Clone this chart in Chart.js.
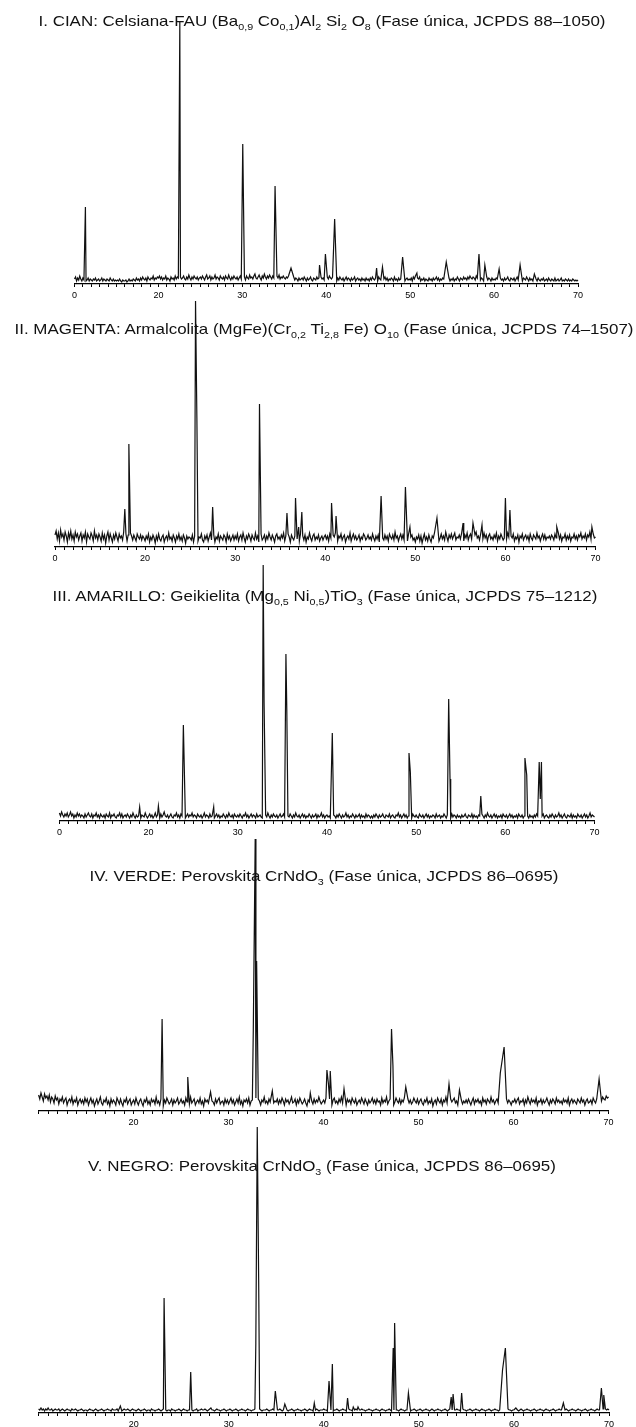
<!DOCTYPE html>
<html>
<head>
<meta charset="utf-8">
<script src="https://cdn.jsdelivr.net/npm/chart.js@4.4.1/dist/chart.umd.min.js"></script>
<style>
  html, body { margin: 0; padding: 0; background: #fff; }
  body { width: 636px; height: 1427px; position: relative; overflow: hidden;
         font-family: "Liberation Sans", Arial, Helvetica, sans-serif; }
  canvas { position: absolute; left: 0; }
  .ttl { position: absolute; width: 636px; text-align: center; white-space: nowrap;
         font-size: 15px; line-height: 15px; color: #111; z-index: 5;
         transform: scaleX(1.13); transform-origin: 50% 50%; }
  .ttl sub { font-size: 9.5px; vertical-align: -4px; line-height: 0; }
</style>
</head>
<body>
<script>
/* XRD patterns, 2θ from 10 to 70, background read every 0.125° (arbitrary units) */
const START = 10, STEP = 0.125, END = 70;
const tickValues = [10, 20, 30, 40, 50, 60, 70];
const tickLabelsA = ['0', '20', '30', '40', '50', '60', '70'];
const tickLabelsB = ['', '20', '30', '40', '50', '60', '70'];

/* ── I. CIAN ─────────────────────── */
const noiseI = [
  5,7,3,6,4,8,5,3,6,4,5,3,4,6,3,5,4,3,5,4,6,3,4,5,3,4,6,3,5,4,3,5,4,3,6,4,3,5,3,4,
  3,4,3,5,3,2,4,3,3,4,2,3,5,3,4,3,5,4,3,6,4,5,3,6,4,7,5,4,6,3,7,5,4,6,5,8,4,6,5,7,
  6,8,5,7,4,6,5,8,4,6,5,3,7,5,6,4,8,5,7,6,4,7,5,6,8,5,4,7,5,9,6,4,7,5,8,6,5,7,4,6,
  7,5,8,6,4,7,9,5,6,8,4,7,5,6,9,5,7,6,4,8,6,5,7,4,8,6,5,9,6,4,7,5,8,6,5,7,4,6,8,5,
  6,5,7,4,8,6,5,9,6,7,5,8,10,6,5,7,9,6,4,8,6,10,7,5,8,6,9,7,5,8,6,10,7,8,6,9,5,7,6,8,
  6,5,7,6,8,9,7,6,5,7,4,6,5,3,6,4,5,6,4,7,5,3,6,4,5,7,4,3,6,5,4,7,5,6,4,7,5,6,4,5,
  6,7,5,8,6,5,7,4,6,5,3,6,4,7,5,4,6,3,5,7,4,6,5,3,6,4,5,7,3,5,6,4,5,3,6,4,5,3,6,4,
  5,3,6,4,7,5,4,6,5,3,7,5,4,6,3,5,7,4,6,3,5,4,6,5,3,7,4,5,3,6,4,5,7,4,6,3,5,6,4,5,
  4,6,3,7,5,8,4,6,5,7,3,5,4,6,3,5,4,3,6,4,5,3,6,4,5,7,4,6,3,5,4,6,5,3,7,4,5,6,3,5,
  4,6,3,5,4,7,5,3,6,5,4,7,5,6,4,7,5,8,6,5,7,6,4,8,6,5,7,4,6,5,3,6,5,7,4,6,5,3,6,4,
  5,4,6,5,3,7,6,4,5,3,6,4,5,7,4,3,6,5,4,6,3,5,7,4,5,6,4,3,6,5,4,7,5,3,6,4,5,3,6,4,
  5,3,6,4,3,5,4,6,3,4,5,3,6,4,3,5,4,3,6,3,4,5,3,4,6,3,4,3,5,4,3,5,3,4,3,5,4,3,4,3,
  4
];
const posI = [11.3, 22.55, 30.05, 33.9, 35.8, 39.2, 39.9, 41.0, 46.0, 46.7, 49.1, 50.8, 54.3, 58.2, 58.9, 60.6, 63.1, 64.8];
const hI   = [77, 263, 140, 98, 16, 19, 30, 65, 16, 17, 27, 11, 22, 30, 19, 15, 19, 10];
const wI   = [0.07, 0.07, 0.1, 0.1, 0.25, 0.07, 0.1, 0.15, 0.07, 0.1, 0.15, 0.07, 0.2, 0.15, 0.12, 0.1, 0.15, 0.1];

/* ── II. MAGENTA ─────────────────── */
const noiseII = [
  12,16,8,14,6,17,10,13,7,15,11,5,14,9,16,8,12,6,15,10,13,7,11,14,6,12,9,15,5,13,10,8,14,11,6,16,9,12,7,13,
  10,6,14,8,12,4,11,15,7,13,9,5,12,8,14,10,6,13,9,11,7,15,10,13,6,12,8,14,11,7,12,9,6,13,10,8,12,7,11,9,
  6,11,8,13,5,10,7,12,9,4,11,7,13,8,6,10,12,5,9,11,7,14,8,10,6,12,9,5,11,8,13,7,10,6,12,9,4,11,8,10,
  9,7,12,5,11,8,14,6,10,9,13,7,5,11,8,12,6,10,14,7,9,12,5,10,8,13,6,11,9,7,12,10,5,13,8,11,6,9,12,7,
  11,8,13,6,10,12,7,14,9,5,11,8,13,10,6,12,9,7,14,8,11,5,10,13,7,9,12,6,11,8,14,10,7,12,9,5,11,13,8,10,
  7,12,9,14,6,11,8,13,10,5,12,9,7,11,14,8,10,6,13,9,11,7,12,5,10,8,14,9,6,11,13,7,10,8,12,6,9,11,7,10,
  12,8,11,6,13,9,7,12,10,14,8,6,11,9,13,7,10,12,5,9,11,8,14,6,10,13,8,11,7,9,12,6,10,8,13,11,7,9,12,8,
  10,7,13,9,6,11,8,12,5,10,14,9,7,12,8,11,6,13,10,8,12,7,15,9,11,6,10,13,8,12,7,9,11,6,13,8,10,12,7,9,
  5,10,8,12,6,11,4,9,13,7,10,6,12,8,5,11,9,14,7,10,12,6,9,13,8,11,7,15,10,6,12,9,13,8,11,14,7,10,9,12,
  8,13,10,6,12,9,14,7,11,13,8,10,6,12,15,9,11,7,13,10,8,14,9,12,6,11,13,8,10,7,12,9,14,6,11,8,13,10,7,9,
  12,8,14,10,7,11,9,13,6,10,8,12,5,11,9,13,7,10,12,8,11,6,13,9,7,12,10,8,14,9,11,6,10,13,8,12,7,10,9,11,
  8,12,10,7,13,9,11,14,8,12,6,10,9,13,7,11,8,12,6,10,9,13,8,11,7,12,10,14,8,11,9,13,7,12,10,15,8,11,13,9,
  10
];
const posII = [17.75, 18.2, 25.6, 25.75, 27.5, 32.7, 35.75, 36.7, 37.05, 37.4, 40.7, 41.2, 46.2, 48.9, 49.4, 52.4, 55.3, 56.4, 57.4, 60.0, 60.5, 65.7, 69.6];
const hII   = [38, 103, 246, 129, 40, 143, 34, 49, 20, 35, 44, 31, 51, 60, 20, 29, 24, 24, 22, 49, 37, 20, 20];
const wII   = [0.07, 0.07, 0.07, 0.07, 0.07, 0.07, 0.07, 0.07, 0.07, 0.07, 0.07, 0.07, 0.1, 0.12, 0.07, 0.15, 0.07, 0.1, 0.07, 0.1, 0.07, 0.07, 0.07];

/* ── III. AMARILLO ───────────────── */
const noiseIII = [
  8,5,9,6,4,7,5,8,4,6,9,5,7,3,6,4,8,5,7,4,6,5,3,7,4,6,8,5,4,7,3,6,5,8,4,6,3,7,5,4,
  6,3,7,5,4,8,3,6,5,7,4,3,6,5,8,4,7,3,5,6,4,7,5,3,6,4,8,5,3,6,4,5,7,3,6,5,4,8,5,3,
  5,7,4,6,3,5,8,4,6,5,3,7,4,6,9,5,4,6,3,5,7,4,3,6,5,8,4,6,3,7,5,4,6,3,5,7,4,6,5,8,
  4,6,5,3,7,5,4,6,3,5,8,4,6,5,3,7,4,5,6,3,5,7,4,6,3,5,4,7,5,3,6,4,8,5,4,6,3,7,5,4,
  6,4,7,5,3,6,5,8,4,6,3,5,7,4,6,5,3,7,4,5,6,4,3,7,5,6,4,8,5,3,6,4,7,5,4,6,3,5,7,4,
  5,7,4,6,3,5,4,7,5,3,6,4,8,5,4,6,3,5,7,4,6,3,5,4,7,5,3,6,4,5,7,3,6,4,5,8,4,6,3,5,
  6,4,5,3,7,4,6,5,3,6,4,7,5,3,6,4,5,8,4,6,3,5,4,7,5,3,6,4,5,7,3,6,4,5,3,7,4,6,5,3,
  5,3,6,4,7,5,3,6,4,5,7,4,3,6,5,4,7,3,5,6,4,3,6,5,8,4,6,3,5,7,4,6,3,5,4,6,3,7,5,4,
  6,4,3,7,5,4,6,3,5,7,4,6,3,5,4,6,5,3,7,4,5,6,3,5,4,7,5,3,6,4,5,3,7,4,6,5,3,6,4,5,
  3,6,4,5,7,4,3,6,5,4,7,3,6,4,5,3,6,5,4,7,5,3,6,4,8,5,4,6,3,5,7,4,6,3,5,4,6,3,7,5,
  4,6,3,5,7,4,6,3,5,4,6,3,7,5,4,6,3,5,4,7,5,3,6,4,5,3,6,4,7,5,3,6,4,5,7,3,5,6,4,3,
  6,4,7,5,3,6,4,5,8,4,6,3,5,7,4,3,6,5,4,7,3,6,4,5,3,7,5,4,6,3,5,7,4,6,3,5,8,4,6,5,
  4
];
const posIII = [19.0, 21.1, 23.9, 27.3, 32.85, 32.95, 35.4, 35.5, 40.6, 49.2, 49.35, 53.65, 53.8, 57.25, 62.2, 62.4, 63.8, 63.92, 64.05];
const hIII   = [14, 15, 96, 14, 256, 119, 167, 110, 88, 68, 49, 122, 42, 25, 63, 46, 59, 22, 59];
const wIII   = [0.07, 0.07, 0.1, 0.07, 0.07, 0.07, 0.07, 0.07, 0.12, 0.07, 0.07, 0.07, 0.07, 0.1, 0.07, 0.07, 0.07, 0.07, 0.07];

/* ── IV. VERDE ───────────────────── */
const noiseIV = [
  16,12,18,14,10,17,13,15,11,16,9,14,12,8,15,11,13,7,12,10,14,8,11,13,6,10,12,9,14,7,11,9,13,6,10,12,8,11,7,13,
  9,12,6,10,13,8,11,5,9,12,7,10,14,8,6,11,9,13,7,10,5,12,8,11,9,6,13,10,7,12,8,5,11,9,13,7,10,12,6,9,
  11,7,13,9,6,10,12,8,5,11,9,13,7,10,6,12,9,11,7,14,8,10,6,12,9,5,11,8,13,10,7,9,12,6,11,8,10,13,7,9,
  12,8,10,6,13,9,11,7,14,8,10,12,6,9,11,8,13,7,10,5,12,9,11,8,14,7,10,9,6,12,8,11,13,7,9,10,6,12,8,11,
  7,10,13,8,11,6,9,12,8,14,7,10,5,11,9,12,8,13,6,10,11,7,9,13,8,12,10,6,11,9,14,8,10,7,12,9,6,11,8,10,
  9,12,7,11,8,13,10,6,12,9,11,7,10,14,8,9,12,6,11,8,13,10,7,9,12,8,5,11,9,13,10,7,12,8,11,9,14,10,7,9,
  11,8,13,10,7,12,9,6,11,13,8,10,7,12,9,14,8,11,10,6,12,9,11,7,13,10,8,12,6,9,11,8,13,10,7,12,9,6,11,8,
  10,13,8,11,7,12,9,10,6,13,8,11,9,14,7,10,12,8,11,6,9,13,10,8,12,7,11,9,13,6,10,12,8,11,7,9,13,10,8,12,
  7,10,12,8,6,11,9,13,7,10,8,12,5,9,11,7,13,10,8,12,6,11,9,14,8,10,7,12,9,11,13,8,10,6,12,9,11,7,10,8,
  11,8,12,9,6,10,13,7,11,9,12,8,10,6,13,9,11,7,12,10,8,14,9,11,7,10,12,8,6,11,9,13,7,10,12,8,11,9,6,10,
  9,12,8,11,13,7,10,9,12,6,11,8,14,10,7,12,9,11,8,13,6,10,9,12,7,11,8,10,13,9,6,11,8,12,10,7,13,9,11,8,
  10,7,12,9,11,8,13,6,10,12,8,11,9,7,12,10,8,13,9,11,6,10,12,8,9,11,7,13,10,8,12,11,9,13,10,14,12,11,15,13,
  14
];
const posIV = [23.0, 25.7, 28.1, 32.6, 32.8, 32.95, 34.6, 38.6, 40.35, 40.5, 40.7, 42.15, 47.15, 47.3, 48.65, 53.2, 54.3, 58.6, 59.0, 69.0];
const hIV   = [92, 34, 19, 81, 272, 150, 20, 18, 41, 28, 40, 22, 82, 45, 24, 27, 21, 38, 64, 32];
const wIV   = [0.1, 0.07, 0.1, 0.07, 0.07, 0.07, 0.1, 0.07, 0.07, 0.07, 0.07, 0.1, 0.1, 0.07, 0.1, 0.15, 0.1, 0.15, 0.2, 0.15];

/* ── V. NEGRO ────────────────────── */
const noiseV = [
  4,3,5,3,4,2,4,3,5,3,3,4,2,3,4,3,3,4,2,3,4,3,2,3,4,3,3,2,4,3,3,4,3,2,3,3,4,3,2,3,
  3,2,3,4,3,3,2,3,4,3,2,3,3,4,3,2,3,3,4,3,3,2,4,3,3,3,4,2,3,3,2,3,4,3,3,4,3,2,3,4,
  3,3,2,3,4,3,2,3,3,4,3,2,3,3,2,4,3,3,2,3,3,4,3,2,3,4,3,3,2,3,3,2,4,3,3,2,3,3,4,3,
  2,3,4,3,3,2,3,3,4,3,2,3,3,4,2,3,3,4,3,3,4,3,2,3,4,5,3,3,2,3,4,3,3,2,3,3,4,3,2,3,
  3,4,3,2,3,3,4,3,2,3,3,4,3,3,2,3,4,3,3,2,3,3,4,2,3,3,4,3,2,3,3,3,4,3,2,3,3,4,3,3,
  2,3,3,4,3,2,3,4,3,3,2,3,3,4,3,2,3,3,4,3,3,2,3,3,4,3,2,3,4,3,3,2,3,3,4,3,2,3,3,3,
  4,3,3,2,3,4,3,3,2,3,3,4,3,2,3,3,4,3,3,2,3,4,3,3,2,3,3,4,3,2,3,3,4,3,3,2,3,3,4,3,
  3,2,3,3,4,3,3,2,3,4,3,3,2,3,3,4,3,2,3,3,4,3,3,2,3,4,3,3,2,3,3,4,3,2,3,3,4,3,2,3,
  3,4,3,2,3,3,4,3,3,2,3,4,3,2,3,3,4,3,3,2,3,3,4,3,2,3,4,3,3,2,3,3,4,3,3,2,3,4,3,3,
  2,3,3,4,3,2,3,3,4,3,3,2,3,4,3,3,2,3,3,4,3,2,3,3,4,3,3,2,3,4,3,3,2,3,3,4,3,3,2,3,
  3,4,3,3,2,3,4,3,2,3,3,4,3,3,2,3,3,4,3,2,3,3,4,3,3,2,3,4,3,3,2,3,3,4,3,2,3,3,4,3,
  3,2,3,3,4,3,2,3,3,4,3,3,2,3,4,3,3,2,3,3,4,3,2,3,3,4,3,3,2,3,4,3,3,2,3,4,5,4,3,4,
  3
];
const posV = [18.6, 23.2, 26.0, 32.85, 33.0, 33.15, 34.9, 35.9, 39.0, 40.55, 40.9, 42.5, 43.1, 43.6, 47.3, 47.45, 48.9, 53.4, 53.6, 54.5, 58.8, 59.1, 60.2, 65.2, 69.2, 69.45];
const hV   = [7, 115, 41, 70, 286, 131, 22, 9, 10, 32, 49, 15, 6, 6, 65, 90, 20, 16, 19, 20, 43, 65, 5, 10, 25, 18];
const wV   = [0.1, 0.07, 0.07, 0.07, 0.07, 0.07, 0.1, 0.1, 0.1, 0.1, 0.07, 0.1, 0.07, 0.07, 0.07, 0.07, 0.1, 0.07, 0.07, 0.1, 0.2, 0.2, 0.1, 0.15, 0.1, 0.07];

/* ── layout of the five stacked panels ── */
const AXIS_H = 22;
const panels = [
  { noise: noiseI,   pos: posI,   h: hI,   w: wI,   labels: tickLabelsA, axisY: 284,  x10: 74.5, x70: 578,   H: 275, titleY: 25.5, titleX: 322,
    title: 'I. CIAN: Celsiana-FAU (Ba<sub>0,9</sub> Co<sub>0,1</sub>)Al<sub>2</sub> Si<sub>2</sub> O<sub>8</sub> (Fase única, JCPDS 88–1050)' },
  { noise: noiseII,  pos: posII,  h: hII,  w: wII,  labels: tickLabelsA, axisY: 547,  x10: 55,   x70: 595.5, H: 260, titleY: 333.5, titleX: 324,
    title: 'II. MAGENTA: Armalcolita (MgFe)(Cr<sub>0,2</sub> Ti<sub>2,8</sub> Fe) O<sub>10</sub> (Fase única, JCPDS 74–1507)' },
  { noise: noiseIII, pos: posIII, h: hIII, w: wIII, labels: tickLabelsA, axisY: 821,  x10: 59.4, x70: 594.5, H: 265, titleY: 601, titleX: 324.5,
    title: 'III. AMARILLO: Geikielita (Mg<sub>0,5</sub> Ni<sub>0,5</sub>)TiO<sub>3</sub> (Fase única, JCPDS 75–1212)' },
  { noise: noiseIV,  pos: posIV,  h: hIV,  w: wIV,  labels: tickLabelsB, axisY: 1111, x10: 38.6, x70: 608.6, H: 280, titleY: 881, titleX: 324,
    title: 'IV. VERDE: Perovskita CrNdO<sub>3</sub> (Fase única, JCPDS 86–0695)' },
  { noise: noiseV,   pos: posV,   h: hV,   w: wV,   labels: tickLabelsB, axisY: 1413, x10: 38.6, x70: 609,   H: 295, titleY: 1171, titleX: 322,
    title: 'V. NEGRO: Perovskita CrNdO<sub>3</sub> (Fase única, JCPDS 86–0695)' }
];

// background points outside the peak windows + the peak apexes, sorted by 2θ
function buildSeries(p) {
  const pts = [];
  p.noise.forEach((v, i) => {
    const x = START + i * STEP;
    if (x > END) return;
    const covered = p.pos.some((c, k) => Math.abs(x - c) <= p.w[k] + 1e-9);
    if (!covered) pts.push({ x, y: v });
  });
  p.pos.forEach((c, k) => pts.push({ x: c, y: p.h[k] }));
  return pts.sort((a, b) => a.x - b.x);
}

panels.forEach(p => {
  const cv = document.createElement('canvas');
  cv.width = 636;
  cv.height = p.H + AXIS_H;
  cv.style.top = (p.axisY - p.H) + 'px';
  document.body.appendChild(cv);

  const t = document.createElement('div');
  t.className = 'ttl';
  t.innerHTML = p.title;
  t.style.left = (p.titleX - 318) + 'px';
  t.style.top = (p.titleY - 12.7) + 'px';
  document.body.appendChild(t);

  new Chart(cv, {
    type: 'line',
    data: {
      datasets: [{
        data: buildSeries(p),
        borderColor: '#111',
        borderWidth: 1.2,
        pointRadius: 0,
        tension: 0,
        fill: false,
        clip: false
      }]
    },
    options: {
      responsive: false,
      animation: false,
      events: [],
      layout: { padding: { left: p.x10, right: 636 - p.x70, top: 0, bottom: 0 } },
      plugins: { legend: { display: false }, tooltip: { enabled: false } },
      scales: {
        x: {
          type: 'linear', min: 10, max: 70,
          afterFit: s => { s.height = AXIS_H; },
          border: { display: true, color: '#000', width: 1.2 },
          grid: { drawOnChartArea: false, drawTicks: true, tickLength: 3, color: '#000', lineWidth: 1 },
          ticks: {
            stepSize: 1, autoSkip: false, maxRotation: 0, minRotation: 0, padding: 3,
            color: '#000',
            font: { family: '"Liberation Sans", Arial, sans-serif', size: 9 },
            callback: v => {
              const k = tickValues.indexOf(v);
              return k >= 0 ? p.labels[k] : '';
            }
          }
        },
        y: { display: false, min: 0, max: p.H }
      }
    }
  });
});
</script>
</body>
</html>
